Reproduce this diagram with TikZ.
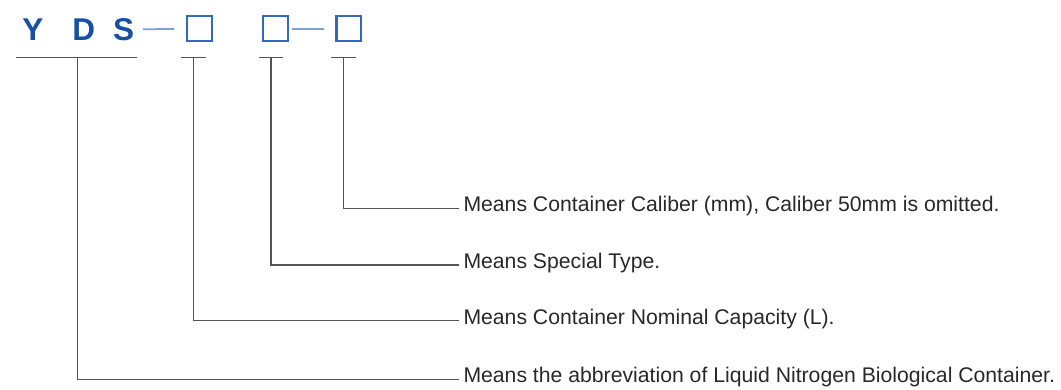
\documentclass[tikz,border=0pt]{standalone}
\usepackage{fontspec}
\setmainfont{Liberation Sans}
\definecolor{codeblue}{RGB}{22,80,165}
\definecolor{boxblue}{RGB}{50,105,185}
\definecolor{linkblue}{RGB}{125,160,215}
\definecolor{leadgray}{RGB}{85,85,85}
\definecolor{textgray}{RGB}{40,40,40}
\begin{document}
\begin{tikzpicture}[x=1pt, y=-1pt,%
% common options for the code letters:
letter/.style = {text=codeblue, font=\fontsize{31.5}{31.5}\selectfont\bfseries,
            anchor=base, inner sep=0},
% common options for the empty boxes:
slot/.style = {draw=boxblue, line width=2.2pt, minimum size=24.8pt, inner sep=0},
% common options for the lines:
link/.style = {draw=linkblue, line width=1.8pt},
lead/.style = {draw=leadgray, line width=1.3pt},
% common options for the explanations:
note/.style = {text=textgray, font=\fontsize{21.2}{21.2}\selectfont, anchor=west,
            inner xsep=4pt, inner ysep=0, text height=7pt, text depth=0pt}]
\useasboundingbox (0,0) rectangle (1061,389);
\node[letter] (Y) at (32.8,40.3) {Y};
\node[letter] (D) at (83.7,40.3) {D};
\node[letter] (S) at (123.7,40.3) {S};
\node[slot] (B1) at (199.2,28.7) {};
\node[slot] (B2) at (275.7,28.7) {};
\node[slot] (B3) at (348.8,28.7) {};
\draw[link, shorten <=8.5pt, shorten >=11.5pt] (S.east) -- (B1.west);
\draw[link, shorten <=3pt, shorten >=11pt] (B2.east) -- (B3.west);
% brackets under the code
\coordinate (U0) at (77.7,57.3);
\coordinate (U1) at (193.3,57.3);
\coordinate (U2) at (271,57.3);
\coordinate (U3) at (343.5,57.3);
\draw[lead] (16,57.3) -- (137,57.3);
\draw[lead] (181,57.3) -- (205.7,57.3);
\draw[lead] (258.7,57.3) -- (283.3,57.3);
\draw[lead] (331,57.3) -- (356,57.3);
\node[note] (N3) at (459.3,208.3) {Means Container Caliber (mm), Caliber 50mm is omitted.};
\node[note] (N2) at (459.3,265) {Means Special Type.};
\node[note] (N1) at (459.3,320.7) {Means Container Nominal Capacity (L).};
\node[note] (N0) at (459.3,379.3) {Means the abbreviation of Liquid Nitrogen Biological Container.};
\draw[lead] (U3) |- (N3.west);
\draw[lead] (U2) |- (N2.west);
\draw[lead] (U1) |- (N1.west);
\draw[lead] (U0) |- (N0.west);
\end{tikzpicture}
\end{document}
